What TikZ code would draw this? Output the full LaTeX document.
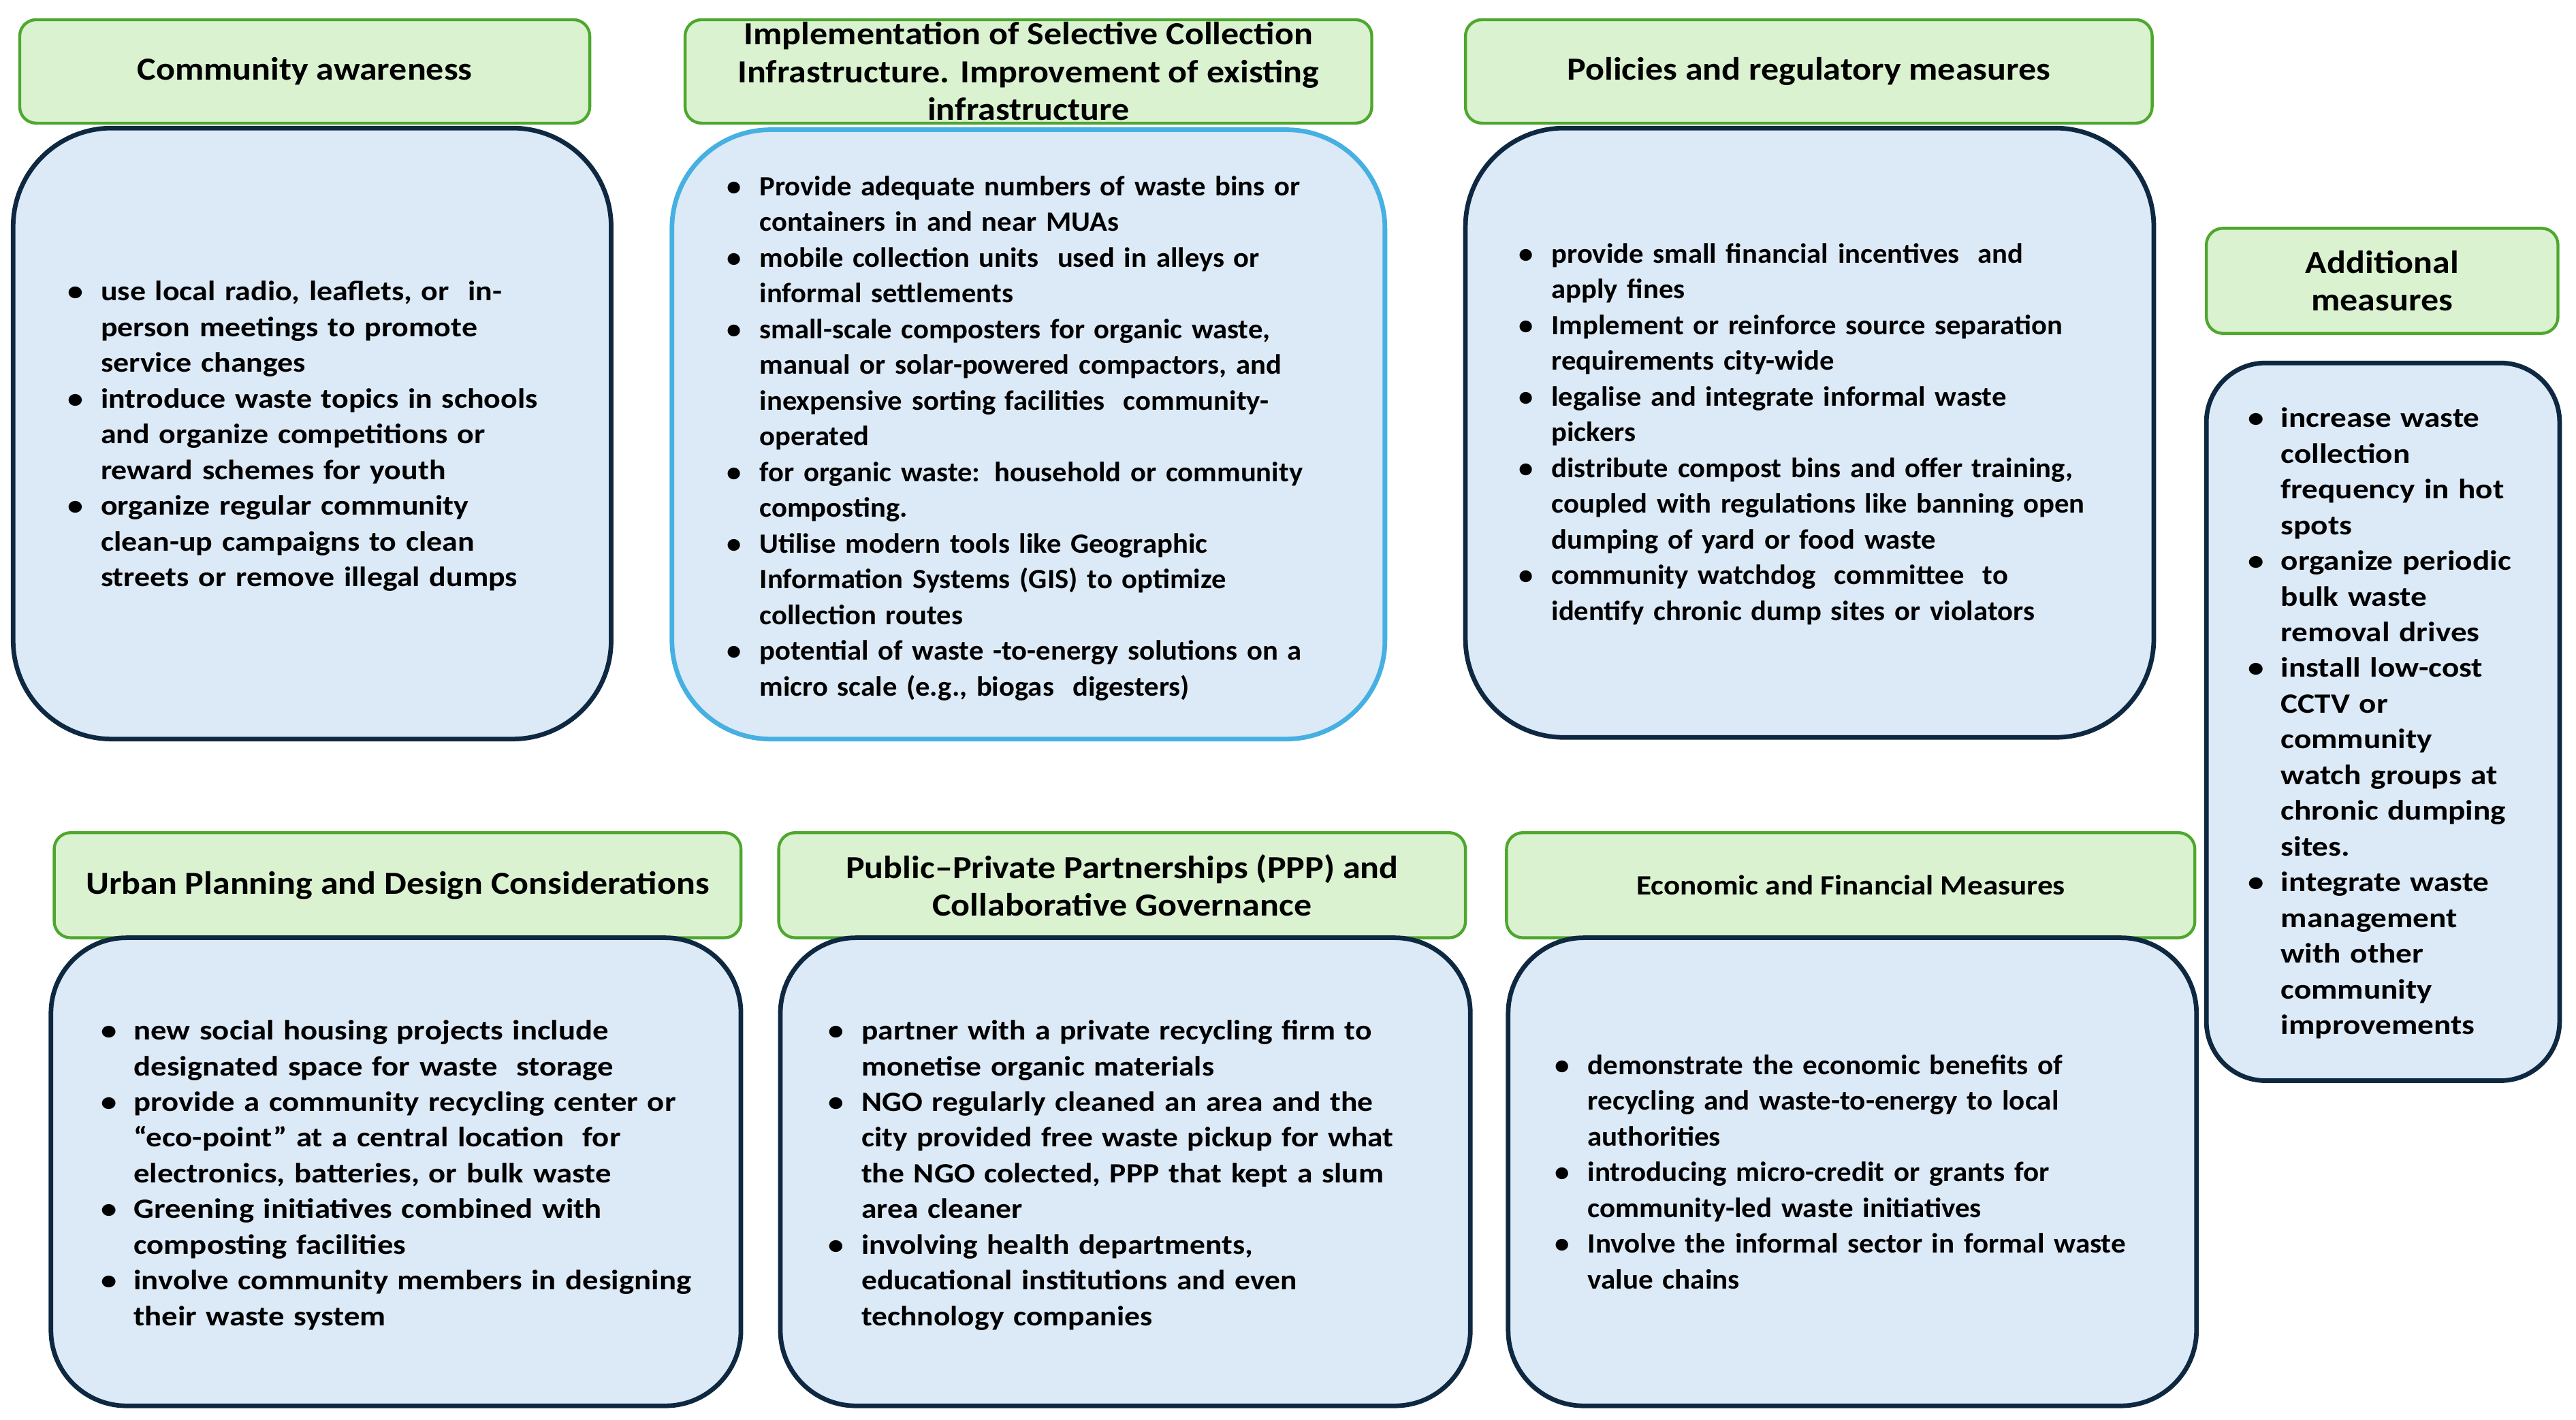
\documentclass[tikz,border=0pt]{standalone}
\usepackage{fontspec}
\setmainfont{Carlito}
\newfontfamily\fHd[FakeStretch=1.10]{Carlito}
\newfontfamily\fA[FakeStretch=1.12]{Carlito}
\newfontfamily\fB[FakeStretch=1.04]{Carlito}
\newfontfamily\fD[FakeStretch=1.15]{Carlito}
\newfontfamily\fE[FakeStretch=1.14]{Carlito}
\newfontfamily\fF[FakeStretch=1.11]{Carlito}
\newfontfamily\fG[FakeStretch=1.05]{Carlito}
\definecolor{hfill}{HTML}{DAF2D0}
\definecolor{hdraw}{HTML}{4EA72E}
\definecolor{bfill}{HTML}{DCE9F6}
\definecolor{bdraw}{HTML}{0E2841}
\definecolor{bdrawlight}{HTML}{45B0E1}
\newcommand\bi[1]{\par\hangindent=10.5pt\hangafter=1\noindent\hbox to 10.5pt{\hspace{0.5pt}•\hfil}\rule{0pt}{7pt}#1\par}
\tikzset{
  hdr/.style={draw=hdraw, fill=hfill, line width=0.9pt, rounded corners=5pt, inner sep=0pt, align=center,
    font=\fHd\bfseries\fontsize{9.8}{11.5}\selectfont},
  bod/.style={draw=bdraw, fill=bfill, line width=1.4pt, inner sep=0pt},
  txt/.style={anchor=north west, inner sep=0pt, text width=220pt},
  bsz/.style={font=#1\bfseries\fontsize{8.5}{10.875}\selectfont},
}
\begin{document}
\begin{tikzpicture}[x=0.5pt,y=-0.5pt]
\useasboundingbox (0,0) rectangle (1568,864.6);
% top row
\node[hdr, minimum width=173.5pt, minimum height=31.5pt] (h1) at (185.5,43.5) {Community awareness};
\node[bod, minimum width=182pt, minimum height=186pt, rounded corners=30pt] (b1) at (190,264) {};
\node[hdr, minimum width=209pt, minimum height=31.5pt] (h2) at (626,43.5) {Implementation of Selective Collection\\Infrastructure. Improvement of existing\\infrastructure};
\node[bod, draw=bdrawlight, minimum width=217pt, minimum height=185.5pt, rounded corners=30pt] (b2) at (626,264.5) {};
\node[hdr, minimum width=209pt, minimum height=31.5pt] (h3) at (1101,43.5) {Policies and regulatory measures};
\node[bod, minimum width=209.5pt, minimum height=185.5pt, rounded corners=30pt] (b3) at (1101.5,263.5) {};
\node[hdr, minimum width=107pt, minimum height=32pt] (h4) at (1450,171) {Additional\\measures};
\node[bod, minimum width=107.5pt, minimum height=218.5pt, rounded corners=18pt] (b4) at (1450.5,439.5) {};
% bottom row
\node[hdr, minimum width=209pt, minimum height=32pt] (h5) at (242,539) {Urban Planning and Design Considerations};
\node[bod, minimum width=210pt, minimum height=142.5pt, rounded corners=23pt] (b5) at (241,713.5) {};
\node[hdr, minimum width=209pt, minimum height=32pt] (h6) at (683,539) {Public–Private Partnerships (PPP) and\\Collaborative Governance};
\node[bod, minimum width=210pt, minimum height=142.5pt, rounded corners=23pt] (b6) at (685,713.5) {};
\node[hdr, minimum width=209.5pt, minimum height=32pt, font=\fHd\bfseries\fontsize{8.5}{10.8}\selectfont] (h7) at (1126.5,539) {Economic and Financial Measures};
\node[bod, minimum width=209.5pt, minimum height=142.5pt, rounded corners=23pt] (b7) at (1127.5,713.5) {};
% texts
\node[txt, bsz=\fA] (t1) at (40,161) {%
\bi{use local radio, leaflets, or\ \ in-\newline person meetings to promote\newline service changes}%
\bi{introduce waste topics in schools\newline and organize competitions or\newline reward schemes for youth}%
\bi{organize regular community\newline clean-up campaigns to clean\newline streets or remove illegal dumps}};
\node[txt, bsz=\fB] (t2) at (441,97) {%
\bi{Provide adequate numbers of waste bins or\newline containers in and near MUAs}%
\bi{mobile collection units\ \ used in alleys or\newline informal settlements}%
\bi{small-scale composters for organic waste,\newline manual or solar-powered compactors, and\newline inexpensive sorting facilities\ \ community-\newline operated}%
\bi{for organic waste: household or community\newline composting.}%
\bi{Utilise modern tools like Geographic\newline Information Systems (GIS) to optimize\newline collection routes}%
\bi{potential of waste -to-energy solutions on a\newline micro scale (e.g., biogas\ \ digesters)}};
\node[txt, bsz=\fB] (t3) at (923,138) {%
\bi{provide small financial incentives\ \ and\newline apply fines}%
\bi{Implement or reinforce source separation\newline requirements city-wide}%
\bi{legalise and integrate informal waste\newline pickers}%
\bi{distribute compost bins and offer training,\newline coupled with regulations like banning open\newline dumping of yard or food waste}%
\bi{community watchdog\ \ committee\ \ to\newline identify chronic dump sites or violators}};
\node[txt, bsz=\fD, text width=110pt] (t4) at (1367,238) {%
\bi{increase waste\newline collection\newline frequency in hot\newline spots}%
\bi{organize periodic\newline bulk waste\newline removal drives}%
\bi{install low-cost\newline CCTV or\newline community\newline watch groups at\newline chronic dumping\newline sites.}%
\bi{integrate waste\newline management\newline with other\newline community\newline improvements}};
\node[txt, bsz=\fE] (t5) at (60,611) {%
\bi{new social housing projects include\newline designated space for waste\ \ storage}%
\bi{provide a community recycling center or\newline “eco-point” at a central location\ \ for\newline electronics, batteries, or bulk waste}%
\bi{Greening initiatives combined with\newline composting facilities}%
\bi{involve community members in designing\newline their waste system}};
\node[txt, bsz=\fF] (t6) at (503,611) {%
\bi{partner with a private recycling firm to\newline monetise organic materials}%
\bi{NGO regularly cleaned an area and the\newline city provided free waste pickup for what\newline the NGO colected, PPP that kept a slum\newline area cleaner}%
\bi{involving health departments,\newline educational institutions and even\newline technology companies}};
\node[txt, bsz=\fG] (t7) at (945,632) {%
\bi{demonstrate the economic benefits of\newline recycling and waste-to-energy to local\newline authorities}%
\bi{introducing micro-credit or grants for\newline community-led waste initiatives}%
\bi{Involve the informal sector in formal waste\newline value chains}};
\end{tikzpicture}
\end{document}
